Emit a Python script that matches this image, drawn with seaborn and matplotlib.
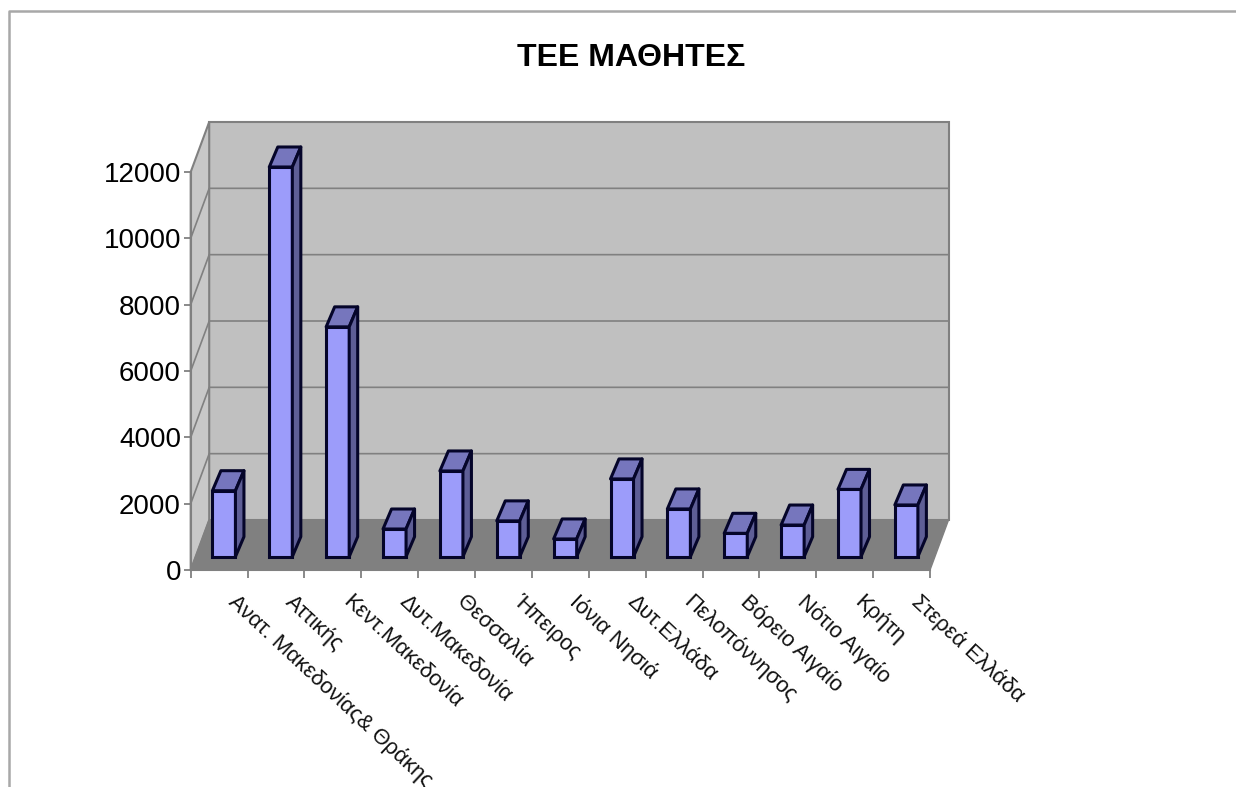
import numpy as np
import pandas as pd
import seaborn as sns
import matplotlib.pyplot as plt
from matplotlib.patches import Polygon
from matplotlib.lines import Line2D
from matplotlib.transforms import ScaledTranslation

regions = ['Ανατ. Μακεδονίας& Θράκης', 'Αττικής', 'Κεντ.Μακεδονία', 'Δυτ.Μακεδονία',
           'Θεσσαλία', 'Ήπειρος', 'Ιόνια Νησιά', 'Δυτ.Ελλάδα', 'Πελοπόννησος',
           'Βόρειο Αιγαίο', 'Νότιο Αιγαίο', 'Κρήτη', 'Στερεά Ελλάδα']
students = [1990, 11750, 6930, 835, 2585, 1080, 535, 2345, 1440, 705, 955, 2030, 1560]
y_ticks = [0, 2000, 4000, 6000, 8000, 10000, 12000]

W, H = 1236, 787
PX_X = (930 - 190.7) / len(regions)   # pixels per category
PX_Y = (570 - 172) / 12000            # pixels per value unit

# 3d look: how far the back wall sits from the front plane, in data units
DEPTH_X = 18.5 / PX_X
DEPTH_Y = 50 / PX_Y
# bars stand a bit behind the front edge, and have their own depth
BAR_X = 4.8 / PX_X
BAR_Y = 13.3 / PX_Y
TOP_X = 8.5 / PX_X
TOP_Y = 20 / PX_Y

WALL = '#c0c0c0'
FLOOR = '#808080'
LINE = '#808080'
FRONT = '#9c9cfa'
TOP = '#7676bd'
SIDE = '#5e5e96'
EDGE = '#05052a'

sns.set_theme(style='white')
plt.rcParams['font.family'] = ['Liberation Sans', 'DejaVu Sans']

fig = plt.figure(figsize=(W / 100, H / 100), dpi=100)
ax = fig.add_axes([190.7 / W, (H - 570) / H, (930 - 190.7) / W, 398 / H])
ax.patch.set_visible(False)

df = pd.DataFrame({'region': regions, 'students': students})
sns.barplot(data=df, x='region', y='students', color=FRONT, saturation=1, width=0.405,
            linewidth=2.2, edgecolor=EDGE, ax=ax, zorder=4)

left, right = -0.5, len(regions) - 0.5
ax.set_xlim(left, right)
ax.set_ylim(0, 12000)

# walls and floor
ax.add_patch(Polygon([(left + DEPTH_X, DEPTH_Y), (right + DEPTH_X, DEPTH_Y),
                      (right + DEPTH_X, 12000 + DEPTH_Y), (left + DEPTH_X, 12000 + DEPTH_Y)],
                     fc=WALL, ec=LINE, lw=1.5, clip_on=False, zorder=1))
ax.add_patch(Polygon([(left, 0), (left + DEPTH_X, DEPTH_Y), (left + DEPTH_X, 12000 + DEPTH_Y),
                      (left, 12000)],
                     fc='#c8c8c8', ec=LINE, lw=1.5, clip_on=False, zorder=1))
ax.add_patch(Polygon([(left, 0), (right, 0), (right + DEPTH_X, DEPTH_Y), (left + DEPTH_X, DEPTH_Y)],
                     fc=FLOOR, ec=LINE, lw=1, clip_on=False, zorder=2))

for v in y_ticks[1:-1]:
    ax.plot([left, left + DEPTH_X, right + DEPTH_X], [v, v + DEPTH_Y, v + DEPTH_Y],
            color=LINE, lw=1.2, clip_on=False, zorder=2)

# move the bars back and add the top and side faces
for i, bar in enumerate(ax.patches):
    if i >= len(regions):
        break
    bar.set_x(bar.get_x() + BAR_X)
    bar.set_y(BAR_Y)
    bar.set_clip_on(False)
    x0, x1 = bar.get_x(), bar.get_x() + bar.get_width()
    y0, y1 = bar.get_y(), bar.get_y() + bar.get_height()
    z = 5 + i
    bar.set_zorder(z)
    ax.add_patch(Polygon([(x0, y1), (x1, y1), (x1 + TOP_X, y1 + TOP_Y), (x0 + TOP_X, y1 + TOP_Y)],
                         fc=TOP, ec=EDGE, lw=2.2, joinstyle='round', clip_on=False, zorder=z))
    ax.add_patch(Polygon([(x1, y0), (x1 + TOP_X, y0 + TOP_Y), (x1 + TOP_X, y1 + TOP_Y), (x1, y1)],
                         fc=SIDE, ec=EDGE, lw=2.2, joinstyle='round', clip_on=False, zorder=z))

sns.despine(ax=ax, top=True, right=True)
for s in ['left', 'bottom']:
    ax.spines[s].set_color(LINE)
    ax.spines[s].set_linewidth(1.5)
    ax.spines[s].set_zorder(3)

ax.set_xlabel('')
ax.set_ylabel('')
ax.set_yticks(y_ticks)
ax.tick_params(axis='y', length=5, width=1.3, color=LINE, labelsize=20, pad=2,
               labelcolor='black', left=True)
ax.set_xticks(np.arange(len(regions)))
ax.set_xticks(np.arange(len(regions) + 1) - 0.5, minor=True)
ax.tick_params(axis='x', which='minor', length=6, width=1.3, color=LINE, bottom=True)
ax.tick_params(axis='x', which='major', length=0, pad=15)
ax.set_xticklabels(regions, rotation=-43, ha='left', va='top', rotation_mode='anchor',
                   fontsize=15.8, color='#111111')
# labels start to the right of the category centre
for lab in ax.get_xticklabels():
    lab.set_transform(lab.get_transform() + ScaledTranslation(0.2, 0, fig.dpi_scale_trans))

fig.text(631 / W, (H - 58) / H, 'ΤΕΕ ΜΑΘΗΤΕΣ', ha='center', va='center', fontsize=23,
         fontweight='bold', color='black')

# chart frame: top and left only show, the rest is cut by the image
fig.add_artist(Line2D([8.5 / W, 8.5 / W, 1], [0, (H - 11) / H, (H - 11) / H], color='#a8a8a8',
                      lw=1.8, transform=fig.transFigure))

fig.savefig('out.png', dpi=100)
